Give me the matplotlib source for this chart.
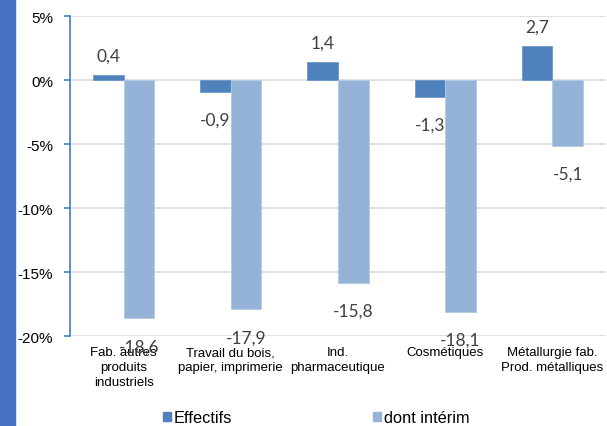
import matplotlib.pyplot as plt
import numpy as np
from matplotlib.patches import Rectangle, Patch

categories = ["Fab. autres\nproduits\nindustriels",
              "Travail du bois,\npapier, imprimerie",
              "Ind.\npharmaceutique",
              "Cosmétiques",
              "Métallurgie fab.\nProd. métalliques"]
effectifs = [0.4, -0.9, 1.4, -1.3, 2.7]
interim = [-18.6, -17.9, -15.8, -18.1, -5.1]
series_names = ["Effectifs", "dont intérim"]
yticks = [5, 0, -5, -10, -15, -20]

c_eff = "#4F81BD"
c_int = "#95B3D7"

fig = plt.figure(figsize=(6.07, 4.27), dpi=100)
# bande bleue sur le bord gauche
fig.patches.append(Rectangle((0, 0), 15 / 607, 1, transform=fig.transFigure,
                             color="#4472C4", zorder=0))

ax = fig.add_axes([70 / 607, 1 - 337.3 / 427, 536 / 607, 320 / 427])
x = np.arange(len(categories))
w = 0.286
b1 = ax.bar(x - w / 2, effectifs, w, color=c_eff, edgecolor="#6F97C8", linewidth=0.6, zorder=3)
b2 = ax.bar(x + w / 2, interim, w, color=c_int, edgecolor="#B4C9E3", linewidth=0.6, zorder=3)

ax.set_xlim(-0.5, 4.5)
ax.set_ylim(-20, 5)
ax.set_yticks(yticks)
ax.set_yticklabels([f"{v}%" for v in yticks], fontsize=11, family="Liberation Sans")
ax.grid(axis="y", color="#D9D9D9", linewidth=1.2, zorder=0)
ax.set_axisbelow(True)

for s in ["top", "right", "bottom"]:
    ax.spines[s].set_visible(False)
ax.spines["left"].set_color("#4A7EBB")
ax.spines["left"].set_linewidth(1.2)
ax.tick_params(axis="y", length=4, color="#4A7EBB", width=1.2, pad=8)
ax.tick_params(axis="x", length=0, pad=7)
ax.set_xticks(x)
ax.set_xticklabels(categories, fontsize=9.5, family="Liberation Sans", linespacing=1.33)

# étiquettes de valeur
for bars, vals in ((b1, effectifs), (b2, interim)):
    for bar, v in zip(bars, vals):
        cx = bar.get_x() + bar.get_width() / 2
        off = 14 if v > 0 else -20
        ax.annotate(f"{v:.1f}".replace(".", ","), (cx, v), xytext=(0, off),
                    textcoords="offset points", ha="center", va="center",
                    fontsize=12.5, color="#404040", family="Lato", zorder=5)

handles = [Patch(color=c_eff), Patch(color=c_int)]
fig.legend(handles, series_names, loc="center", bbox_to_anchor=(316 / 607, 1 - 419 / 427),
           ncol=2, frameon=False, prop={"family": "Liberation Sans", "size": 11.8},
           handlelength=0.5, handleheight=0.5, handletextpad=0.15, columnspacing=8.6,
           borderaxespad=0, borderpad=0)

fig.savefig("out.png", dpi=100)
